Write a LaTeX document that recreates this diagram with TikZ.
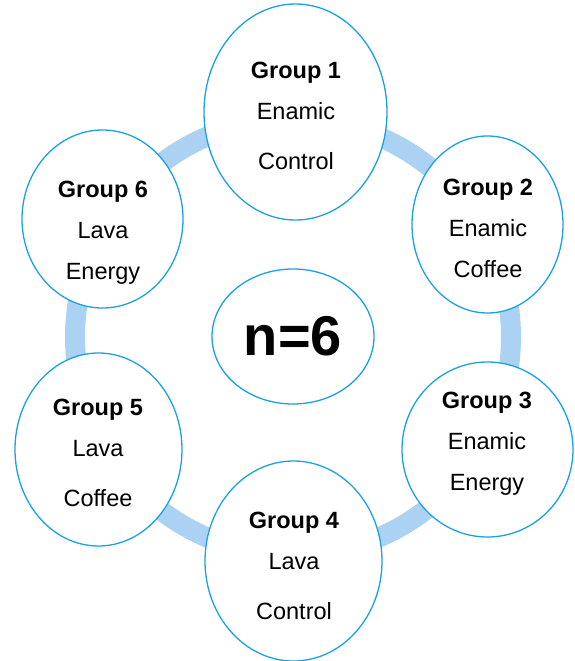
\documentclass[tikz,border=0pt]{standalone}
\usepackage{fontspec}
\setmainfont{Liberation Sans}
\usepackage{tikz}
\usetikzlibrary{shapes,positioning}
\definecolor{ringblue}{RGB}{171,210,243}
\definecolor{edgeblue}{RGB}{27,161,226}

\begin{document}
\begin{tikzpicture}[x=1pt, y=-1pt, group/.style={ellipse, draw=edgeblue, line width=1.3pt, fill=white, inner sep=0pt}, grouptext/.style={align=center, anchor=north, inner sep=0pt, font=\fontsize{23.5}{41}\selectfont}, ring/.style={draw=ringblue, line width=20pt}]
		\useasboundingbox (0,0) rectangle (574,661);
		\draw [ring] (293,337) circle [radius=218];

		\node[group, minimum width=183, minimum height=216] (g1) at (295.5,112) {};
		\node[group, minimum width=151, minimum height=177] (g2) at (487.5,224.5) {};
		\node[group, minimum width=171, minimum height=175] (g3) at (487.5,449.5) {};
		\node[group, minimum width=177, minimum height=200] (g4) at (293.5,561) {};
		\node[group, minimum width=167, minimum height=193] (g5) at (98.5,449.5) {};
		\node[group, minimum width=161, minimum height=178] (g6) at (102.5,219) {};
		\node[group, minimum width=162, minimum height=135, font=\fontsize{56}{60}\selectfont\bfseries] (total) at (293,336.5) {n=6};

		\node[grouptext] (t1) at (296,62) {\textbf{Group 1}\\Enamic\\[9pt]Control};
		\node[grouptext] (t2) at (488,179) {\textbf{Group 2}\\Enamic\\Coffee};
		\node[grouptext] (t3) at (487,392) {\textbf{Group 3}\\Enamic\\Energy};
		\node[grouptext] (t4) at (294,512) {\textbf{Group 4}\\Lava\\[9pt]Control};
		\node[grouptext] (t5) at (98,399) {\textbf{Group 5}\\Lava\\[9pt]Coffee};
		\node[grouptext] (t6) at (103,181) {\textbf{Group 6}\\Lava\\Energy};
	\end{tikzpicture}
\end{document}
